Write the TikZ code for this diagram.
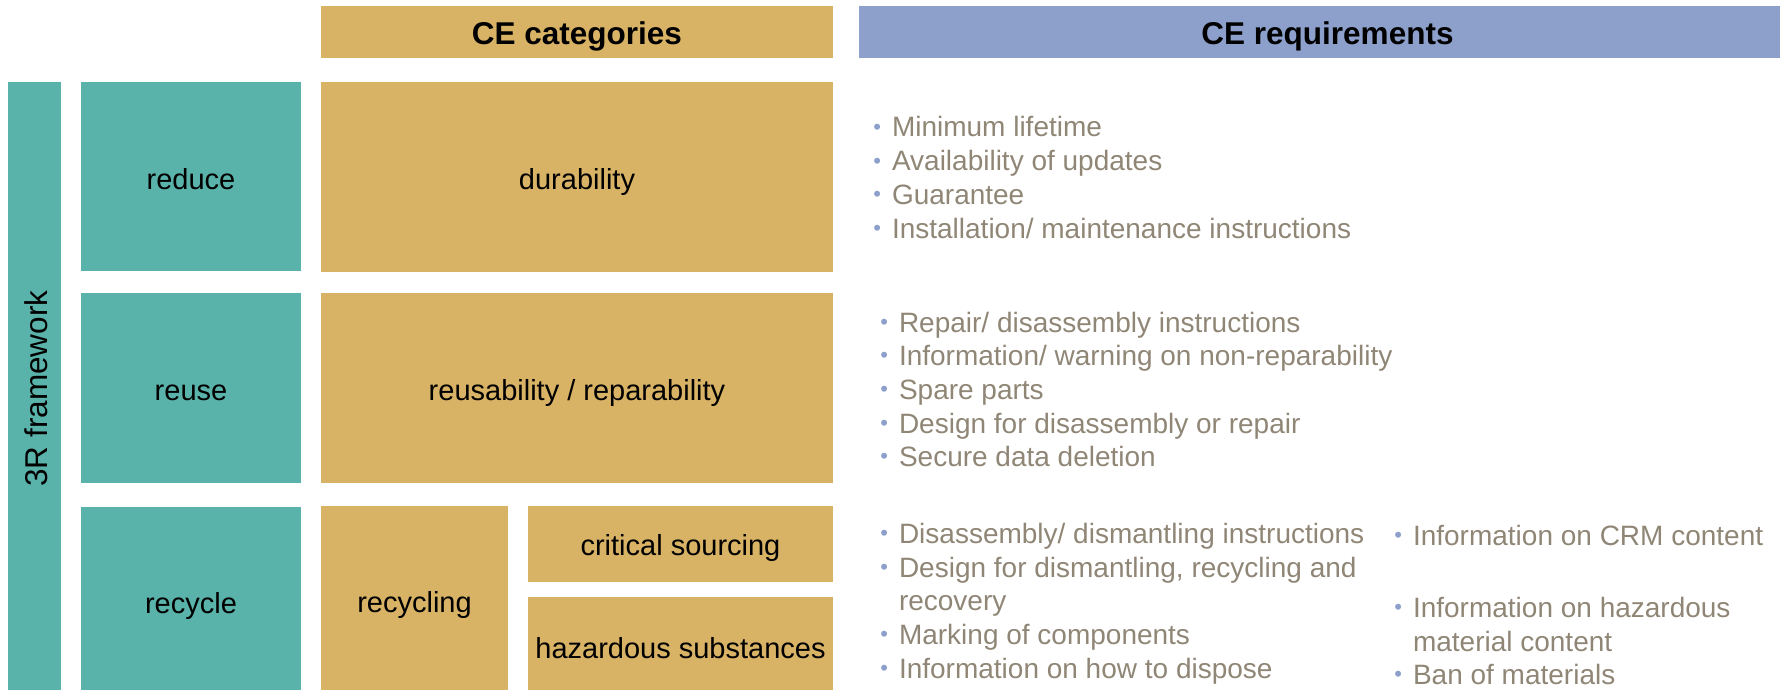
\documentclass[tikz,border=0pt]{standalone}
\usepackage{fontspec}
\setmainfont{Liberation Sans}
\definecolor{teal3r}{HTML}{5AB3AA}
\definecolor{goldce}{HTML}{D8B265}
\definecolor{bluece}{HTML}{8CA0CB}
\definecolor{reqtext}{HTML}{8F8676}
\definecolor{bulc}{HTML}{8CA0CB}
\newcommand\bul{\makebox[0pt][r]{\textcolor{bulc}{\fontsize{22bp}{22bp}\selectfont\raisebox{2.5bp}{•}}\hspace{11bp}}}
\tikzset{
  box/.style={inner sep=0pt, outer sep=0pt, anchor=north west, align=center,
    text height=25bp, text depth=0bp,
    font=\fontsize{29bp}{34bp}\selectfont},
  rbox/.style={box, fill=teal3r},
  gbox/.style={box, fill=goldce},
  hdr/.style={box, text height=26bp, font=\fontsize{31.5bp}{34bp}\selectfont\bfseries},
  req/.style={anchor=base west, inner sep=0pt, outer sep=0pt, text=reqtext,
    font=\fontsize{28bp}{34bp}\selectfont},
}
\begin{document}
\begin{tikzpicture}[x=1bp,y=-1bp]
\useasboundingbox (0,0) rectangle (1780,690);
% headers
\node[hdr, fill=goldce, minimum width=512bp, minimum height=52bp] (hcat) at (321,6) {CE categories};
\node[hdr, fill=bluece, minimum width=921bp, minimum height=52bp] (hreq) at (859,6) {\hspace*{16bp}CE requirements};
% 3R bar
\node[box, anchor=center, fill=teal3r, rotate=90, minimum width=608bp, minimum height=52bp,
  font=\fontsize{31.5bp}{34bp}\selectfont] (r3) at (34.5,386) {3R framework\hspace*{5bp}};
% left column
\node[rbox, minimum width=220bp, minimum height=189bp] (reduce) at (81,82) {reduce};
\node[rbox, minimum width=220bp, minimum height=190bp] (reuse) at (81,293) {reuse};
\node[rbox, minimum width=220bp, minimum height=183bp, text height=29bp] (recycle) at (81,507) {recycle};
% categories
\node[gbox, minimum width=512bp, minimum height=190bp] (dur) at (321,82) {durability};
\node[gbox, minimum width=512bp, minimum height=190bp] (reus) at (321,293) {reusability / reparability};
\node[gbox, minimum width=187bp, minimum height=184bp, text height=29bp] (recyc) at (321,506) {recycling};
\node[gbox, minimum width=305bp, minimum height=76bp, text height=22bp] (crit) at (528,506) {critical sourcing};
\node[gbox, minimum width=305bp, minimum height=93bp, text height=30bp] (haz) at (528,597) {hazardous substances};
% requirements: reduce
\node[req] (q1) at (892,137) {\bul Minimum lifetime};
\node[req] (q2) at (892,171) {\bul Availability of updates};
\node[req] (q3) at (892,204) {\bul Guarantee};
\node[req] (q4) at (892,238) {\bul Installation/ maintenance instructions};
% requirements: reuse
\node[req] (u1) at (899,332) {\bul Repair/ disassembly instructions};
\node[req] (u2) at (899,365) {\bul Information/ warning on non-reparability};
\node[req] (u3) at (899,399) {\bul Spare parts};
\node[req] (u4) at (899,433) {\bul Design for disassembly or repair};
\node[req] (u5) at (899,466) {\bul Secure data deletion};
% requirements: recycle
\node[req] (c1) at (899,543) {\bul Disassembly/ dismantling instructions};
\node[req] (c2) at (899,577) {\bul Design for dismantling, recycling and};
\node[req] (c3) at (899,610) {recovery};
\node[req] (c4) at (899,644) {\bul Marking of components};
\node[req] (c5) at (899,678) {\bul Information on how to dispose};
\node[req] (d1) at (1413,545) {\bul Information on CRM content};
\node[req] (d2) at (1413,617) {\bul Information on hazardous};
\node[req] (d3) at (1413,651) {material content};
\node[req] (d4) at (1413,684) {\bul Ban of materials};
\end{tikzpicture}
\end{document}
